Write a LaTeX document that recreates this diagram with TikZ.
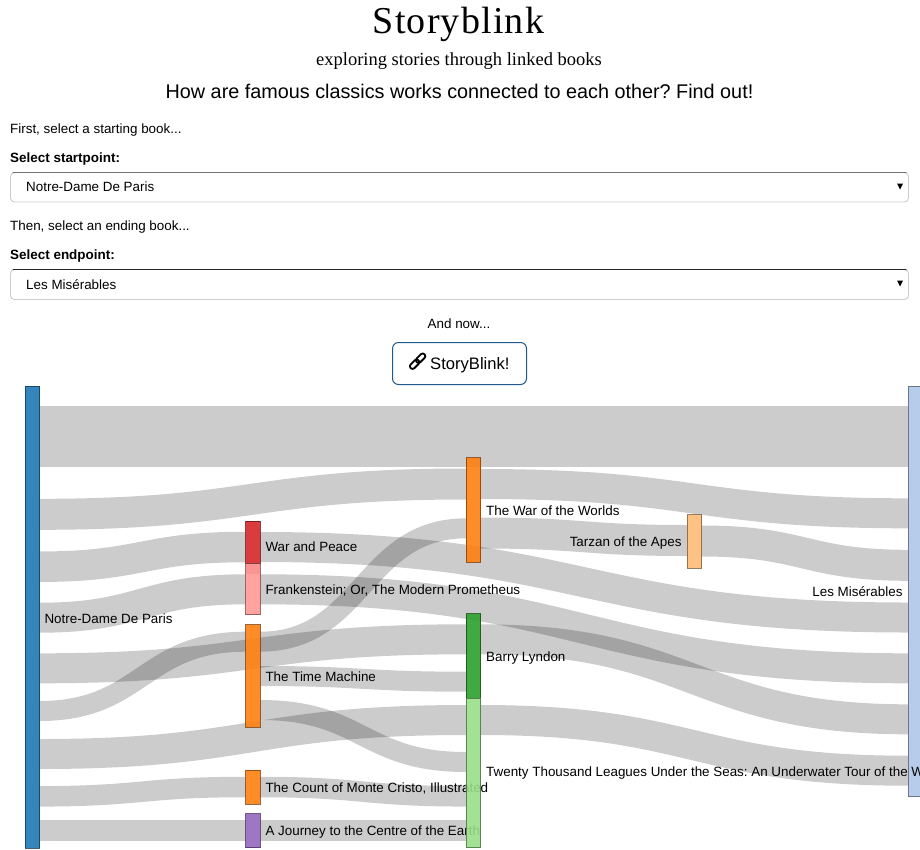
\documentclass[tikz,border=0pt]{standalone}
\usepackage{fontspec}
\setmainfont{Liberation Sans}
\newfontfamily\titlefont[LetterSpace=3.2]{Liberation Serif}
\usetikzlibrary{calc,positioning}
\frenchspacing

\definecolor{cblue}{HTML}{1F77B4}
\definecolor{cpale}{HTML}{AEC7E8}
\definecolor{cred}{HTML}{D62728}
\definecolor{cpink}{HTML}{FF9896}
\definecolor{corange}{HTML}{FF7F0E}
\definecolor{cpeach}{HTML}{FFBB78}
\definecolor{cpurple}{HTML}{9467BD}
\definecolor{cgreen}{HTML}{2CA02C}
\definecolor{clime}{HTML}{98DF8A}
\definecolor{cborder}{HTML}{CCCCCC}
\definecolor{cbutton}{HTML}{1F5A8C}

\pgfdeclarelayer{links}
\pgfsetlayers{links,main}

\tikzset{
  book/.style={draw=#1!49!black,draw opacity=.8,fill=#1,fill opacity=.9,line width=.9pt,
    rectangle,inner sep=0pt,outer sep=0pt,minimum width=14.5pt,anchor=north west},
  booklabel/.style={font=\fontsize{13.4}{15}\selectfont,text height=9.5pt,text depth=2.8pt,inner sep=0pt,outer sep=0pt,yshift=-2pt},
  pagetext/.style={font=\fontsize{13.4}{15}\selectfont,inner sep=0pt,anchor=base west},
  pagebold/.style={font=\fontsize{13.45}{15}\bfseries\selectfont,inner sep=0pt,anchor=base west},
  ribbon/.style={draw=black,draw opacity=.2},
  selectbox/.style={draw=cborder,rounded corners=4pt,line width=.9pt},
}

% one link of the flow, from bar to bar
\newcommand{\ribbon}[5]{%
  \coordinate (p) at (#1.east |- 0,#3);
  \coordinate (q) at (#2.west |- 0,#4);
  \draw[ribbon,line width=#5pt] (p) .. controls ($(p)!.5!(q |- p)$) and ($(p |- q)!.5!(q)$) .. (q);
}

\begin{document}
\begin{tikzpicture}[x=1pt,y=-1pt]
\useasboundingbox (0,0) rectangle (920,849);

% heading
\node[inner sep=0pt,anchor=base,font=\fontsize{38}{42}\titlefont] (title) at (458.5,33) {Storyblink};
\node[inner sep=0pt,anchor=base,font=\fontsize{18.5}{20}\titlefont\addfontfeature{LetterSpace=0}] (subtitle) at (459,65) {exploring stories through linked books};
\node[inner sep=0pt,anchor=base,font=\fontsize{19.8}{24}\selectfont] (question) at (459.5,98) {How are famous classics works connected to each other? Find out!};

% start selection
\node[pagetext] (firsttxt) at (10,133) {First, select a starting book...};
\node[pagebold] (starttxt) at (10,162) {Select startpoint:};
\draw[selectbox] (10.5,172.5) rectangle (908.5,202);
\draw[line width=1pt,draw=black!55,line cap=round] (13,172.5) -- (906,172.5);
\node[pagetext] (startval) at (26,191) {Notre-Dame De Paris};
\fill (897,183.5) -- (903,183.5) -- (900,189.5) -- cycle;

% end selection
\node[pagetext] (thentxt) at (10,230) {Then, select an ending book...};
\node[pagebold] (endtxt) at (10,259) {Select endpoint:};
\draw[selectbox] (10.5,269.5) rectangle (908.5,299.5);
\draw[line width=1pt,draw=black!85,line cap=round] (13,269.5) -- (906,269.5);
\node[pagetext] (endval) at (26,289) {Les Misérables};
\fill (897,280.5) -- (903,280.5) -- (900,286.5) -- cycle;

% button
\node[pagetext,anchor=base] (nowtxt) at (459,328) {And now...};
\draw[draw=cbutton,line width=1pt,rounded corners=6pt] (392.5,342.5) rectangle (526.5,384.5);
\node[inner sep=0pt,anchor=base west,font=\fontsize{16.6}{20}\selectfont] (blinktxt) at (430,369) {StoryBlink!};
\draw[line width=1.8pt,rounded corners=2.4pt,rotate around={45:(420.6,358.2)}] (415.1,355.6) rectangle (426.1,360.8);
\draw[line width=1.8pt,rounded corners=2.4pt,rotate around={45:(414.6,364.2)}] (409.1,361.6) rectangle (420.1,366.8);

% bars and their labels
\node[book=cblue,minimum height=462pt] (notredame) at (25,386) {};
\node[booklabel,right=5pt of notredame,yshift=-1.5pt] (notredametxt) {Notre-Dame De Paris};
\node[book=cpale,minimum height=410.7pt] (lesmis) at (908,386) {};
\node[booklabel,left=5.5pt of lesmis] (lesmistxt) {Les Misérables};

\node[book=cred,minimum height=42.7pt] (warpeace) at (245.5,521) {};
\node[booklabel,right=5.5pt of warpeace,yshift=-4pt] (warpeacetxt) {War and Peace};
\node[book=cpink,minimum height=51pt] (frank) at (245.5,563.7) {};
\fill[cred,opacity=.1] (frank.north west) rectangle ($(frank.north east)+(0,10)$);
\node[booklabel,right=5.5pt of frank] (franktxt) {Frankenstein; Or, The Modern Prometheus};
\node[book=corange,minimum height=102.3pt] (timemachine) at (245.5,624.7) {};
\node[booklabel,right=5.5pt of timemachine] (timemachinetxt) {The Time Machine};
\node[book=corange,minimum height=34.3pt] (cristo) at (245.5,770) {};
\node[booklabel,right=5.5pt of cristo] (cristotxt) {The Count of Monte Cristo, Illustrated};
\node[book=cpurple,minimum height=34pt] (journey) at (245.5,813.7) {};
\node[booklabel,right=5.5pt of journey,yshift=.5pt] (journeytxt) {A Journey to the Centre of the Earth};

\node[book=corange,minimum height=104.6pt] (worlds) at (466.2,457.7) {};
\node[booklabel,right=5.5pt of worlds] (worldstxt) {The War of the Worlds};
\node[book=cpeach,minimum height=53.6pt] (tarzan) at (687,514.7) {};
\node[booklabel,left=5.5pt of tarzan] (tarzantxt) {Tarzan of the Apes};
\node[book=cgreen,minimum height=84.6pt] (barry) at (466.2,613.7) {};
\node[booklabel,right=5.5pt of barry] (barrytxt) {Barry Lyndon};
\node[book=clime,minimum height=149.4pt] (twenty) at (466.2,698.3) {};
\node[booklabel,right=5.5pt of twenty,yshift=1.5pt] (twentytxt) {Twenty Thousand Leagues Under the Seas: An Underwater Tour of the W};

% links
\begin{pgfonlayer}{links}
\ribbon{notredame}{lesmis}{436.7}{436.7}{61}
\ribbon{notredame}{worlds}{514.3}{484}{31}
\ribbon{worlds}{lesmis}{484}{513.3}{30}
\ribbon{notredame}{warpeace}{566.7}{547}{30.5}
\ribbon{warpeace}{lesmis}{547}{617.5}{30}
\ribbon{notredame}{frank}{617.7}{589.3}{30}
\ribbon{frank}{lesmis}{589.3}{668.3}{30}
\ribbon{notredame}{barry}{668.3}{639.3}{30}
\ribbon{barry}{lesmis}{639.3}{719.3}{30}
\ribbon{notredame}{timemachine}{711}{641.7}{20}
\ribbon{timemachine}{worlds}{641.7}{528.3}{20}
\ribbon{worlds}{tarzan}{533}{540.5}{31}
\ribbon{tarzan}{lesmis}{541}{565.3}{31}
\ribbon{timemachine}{barry}{676}{681.7}{20}
\ribbon{timemachine}{twenty}{710}{762}{20}
\ribbon{notredame}{twenty}{754}{720}{30}
\ribbon{twenty}{lesmis}{720}{770.7}{30}
\ribbon{notredame}{cristo}{796.3}{787}{20.5}
\ribbon{cristo}{twenty}{787}{796.3}{20.5}
\ribbon{notredame}{journey}{830.3}{830.3}{20.5}
\ribbon{journey}{twenty}{830.3}{830.3}{20.5}
\end{pgfonlayer}
\end{tikzpicture}
\end{document}
